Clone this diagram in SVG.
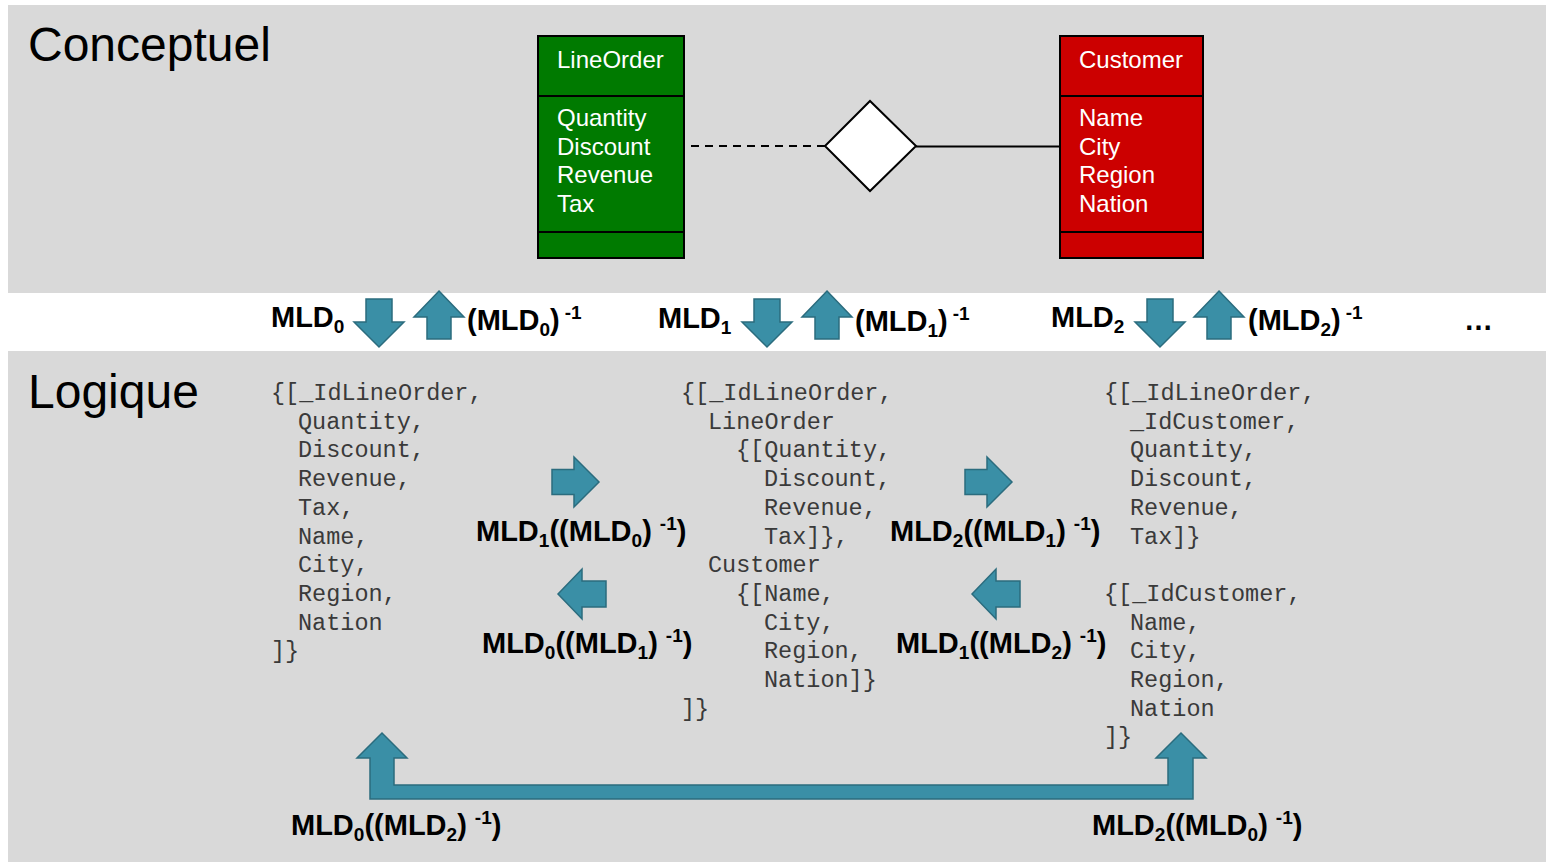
<svg xmlns="http://www.w3.org/2000/svg" xmlns:xlink="http://www.w3.org/1999/xlink" width="1546" height="862" viewBox="0 0 1546 862">
  <style>
    .panel { fill: #d9d9d9; }
    .ttl { font-family: "Liberation Sans", Arial, sans-serif; font-size: 48px; fill: #000; }
    .ent { font-family: "Liberation Sans", Arial, sans-serif; font-size: 24px; fill: #fff; }
    .box { stroke: #000; stroke-width: 2; }
    .div { stroke: #000; stroke-width: 2; }
    .lbl { font-family: "Liberation Sans", Arial, sans-serif; font-weight: bold; font-size: 29px; fill: #000; }
    .sm { font-size: 19px; }
    .code { font-family: "Liberation Mono", "Courier New", monospace; font-size: 23.5px; fill: #3a3a3a; }
    .arr { fill: #3a8fa6; stroke: #2b6c7e; stroke-width: 1.5; stroke-linejoin: miter; }
  </style>
  <defs>
    <!-- block arrows, origin at a fixed anchor point -->
    <path id="dn" d="M-13,0 H13 V23 H25 L0,48 L-25,23 H-13 Z"/>
    <path id="up" d="M0,0 L25,26 H12 V48 H-12 V26 H-25 Z"/>
    <path id="rt" d="M0,-12.5 H22 V-25 L47,0 L22,25 V12.5 H0 Z"/>
    <path id="lt" d="M0,0 L24,-25 V-13 H48 V13 H24 V25 Z"/>
  </defs>

  <!-- background bands -->
  <rect width="1546" height="862" fill="#ffffff"/>
  <rect class="panel" x="8" y="5" width="1538" height="288"/>
  <rect class="panel" x="8" y="351" width="1538" height="511"/>

  <text class="ttl" x="28" y="61">Conceptuel</text>
  <text class="ttl" x="28" y="408">Logique</text>

  <!-- relationship connectors -->
  <g id="connectors">
    <line x1="691" y1="146" x2="825" y2="146" stroke="#000" stroke-width="2" stroke-dasharray="8,6"/>
    <line x1="916" y1="146.5" x2="1059" y2="146.5" stroke="#000" stroke-width="2"/>
  </g>

  <g id="lineorder">
    <rect class="box" x="538" y="36" width="146" height="222" fill="#007a00"/>
    <line class="div" x1="538" y1="96" x2="684" y2="96"/>
    <line class="div" x1="538" y1="232" x2="684" y2="232"/>
    <text class="ent" x="557" y="68">LineOrder</text>
    <text class="ent" x="557" y="126">Quantity</text>
    <text class="ent" x="557" y="154.5">Discount</text>
    <text class="ent" x="557" y="183">Revenue</text>
    <text class="ent" x="557" y="211.5">Tax</text>
  </g>

  <g id="relationship">
    <path d="M825,146 L870,101 L916,146 L870,191 Z" fill="#fff" stroke="#000" stroke-width="2"/>
  </g>

  <g id="customer">
    <rect class="box" x="1060" y="36" width="143" height="222" fill="#cc0000"/>
    <line class="div" x1="1060" y1="96" x2="1203" y2="96"/>
    <line class="div" x1="1060" y1="232" x2="1203" y2="232"/>
    <text class="ent" x="1079" y="68">Customer</text>
    <text class="ent" x="1079" y="126">Name</text>
    <text class="ent" x="1079" y="154.5">City</text>
    <text class="ent" x="1079" y="183">Region</text>
    <text class="ent" x="1079" y="211.5">Nation</text>
  </g>

  <!-- mappings between the conceptual and logical levels -->
  <g id="mappings">
    <use xlink:href="#dn" class="arr" transform="translate(379,299)"/>
    <use xlink:href="#up" class="arr" transform="translate(439,291)"/>
    <use xlink:href="#dn" class="arr" transform="translate(767,299)"/>
    <use xlink:href="#up" class="arr" transform="translate(827,291)"/>
    <use xlink:href="#dn" class="arr" transform="translate(1160,299)"/>
    <use xlink:href="#up" class="arr" transform="translate(1219,291)"/>

    <text class="lbl" x="271" y="327">MLD<tspan class="sm" dy="6">0</tspan></text>
    <text class="lbl" x="467" y="330">(MLD<tspan class="sm" dy="6">0</tspan><tspan dy="-6">)</tspan><tspan class="sm" dx="5" dy="-11">-1</tspan></text>
    <text class="lbl" x="658" y="328">MLD<tspan class="sm" dy="6">1</tspan></text>
    <text class="lbl" x="855" y="331">(MLD<tspan class="sm" dy="6">1</tspan><tspan dy="-6">)</tspan><tspan class="sm" dx="5" dy="-11">-1</tspan></text>
    <text class="lbl" x="1051" y="327">MLD<tspan class="sm" dy="6">2</tspan></text>
    <text class="lbl" x="1248" y="330">(MLD<tspan class="sm" dy="6">2</tspan><tspan dy="-6">)</tspan><tspan class="sm" dx="5" dy="-11">-1</tspan></text>
    <text class="lbl" x="1464" y="330">…</text>
  </g>

  <!-- logical schema MLD0: single flat collection -->
  <g id="mld0">
    <text class="code" x="271" y="400">{[_IdLineOrder,</text>
    <text class="code" x="298" y="428.7">Quantity,</text>
    <text class="code" x="298" y="457.4">Discount,</text>
    <text class="code" x="298" y="486">Revenue,</text>
    <text class="code" x="298" y="514.8">Tax,</text>
    <text class="code" x="298" y="543.5">Name,</text>
    <text class="code" x="298" y="572.2">City,</text>
    <text class="code" x="298" y="600.9">Region,</text>
    <text class="code" x="298" y="629.6">Nation</text>
    <text class="code" x="271" y="658.3">]}</text>
  </g>

  <!-- logical schema MLD1: nested documents -->
  <g id="mld1">
    <text class="code" x="681" y="400">{[_IdLineOrder,</text>
    <text class="code" x="708" y="428.7">LineOrder</text>
    <text class="code" x="736" y="457.4">{[Quantity,</text>
    <text class="code" x="764" y="486">Discount,</text>
    <text class="code" x="764" y="514.8">Revenue,</text>
    <text class="code" x="764" y="543.5">Tax]},</text>
    <text class="code" x="708" y="572.2">Customer</text>
    <text class="code" x="736" y="600.9">{[Name,</text>
    <text class="code" x="764" y="629.6">City,</text>
    <text class="code" x="764" y="658.3">Region,</text>
    <text class="code" x="764" y="687">Nation]}</text>
    <text class="code" x="681" y="715.7">]}</text>
  </g>

  <!-- logical schema MLD2: two collections -->
  <g id="mld2">
    <text class="code" x="1104" y="400">{[_IdLineOrder,</text>
    <text class="code" x="1130" y="428.7">_IdCustomer,</text>
    <text class="code" x="1130" y="457.4">Quantity,</text>
    <text class="code" x="1130" y="486">Discount,</text>
    <text class="code" x="1130" y="514.8">Revenue,</text>
    <text class="code" x="1130" y="543.5">Tax]}</text>
    <text class="code" x="1104" y="600.9">{[_IdCustomer,</text>
    <text class="code" x="1130" y="629.6">Name,</text>
    <text class="code" x="1130" y="658.3">City,</text>
    <text class="code" x="1130" y="687">Region,</text>
    <text class="code" x="1130" y="715.7">Nation</text>
    <text class="code" x="1104" y="744.4">]}</text>
  </g>

  <!-- conversions between logical schemas -->
  <g id="conversions">
    <use xlink:href="#rt" class="arr" transform="translate(552,482)"/>
    <use xlink:href="#lt" class="arr" transform="translate(558,594)"/>
    <use xlink:href="#rt" class="arr" transform="translate(965,482)"/>
    <use xlink:href="#lt" class="arr" transform="translate(972,594)"/>
    <path class="arr" d="M370,799 V758 H357 L382,733 L407,758 H394 V785 H1168 V758 H1156 L1181,733 L1206,758 H1193 V799 Z"/>

    <text class="lbl" x="476" y="541">MLD<tspan class="sm" dy="6">1</tspan><tspan dy="-6">((MLD</tspan><tspan class="sm" dy="6">0</tspan><tspan dy="-6">) </tspan><tspan class="sm" dy="-11">-1</tspan><tspan dy="11">)</tspan></text>
    <text class="lbl" x="482" y="653">MLD<tspan class="sm" dy="6">0</tspan><tspan dy="-6">((MLD</tspan><tspan class="sm" dy="6">1</tspan><tspan dy="-6">) </tspan><tspan class="sm" dy="-11">-1</tspan><tspan dy="11">)</tspan></text>
    <text class="lbl" x="890" y="541">MLD<tspan class="sm" dy="6">2</tspan><tspan dy="-6">((MLD</tspan><tspan class="sm" dy="6">1</tspan><tspan dy="-6">) </tspan><tspan class="sm" dy="-11">-1</tspan><tspan dy="11">)</tspan></text>
    <text class="lbl" x="896" y="653">MLD<tspan class="sm" dy="6">1</tspan><tspan dy="-6">((MLD</tspan><tspan class="sm" dy="6">2</tspan><tspan dy="-6">) </tspan><tspan class="sm" dy="-11">-1</tspan><tspan dy="11">)</tspan></text>
    <text class="lbl" x="291" y="835">MLD<tspan class="sm" dy="6">0</tspan><tspan dy="-6">((MLD</tspan><tspan class="sm" dy="6">2</tspan><tspan dy="-6">) </tspan><tspan class="sm" dy="-11">-1</tspan><tspan dy="11">)</tspan></text>
    <text class="lbl" x="1092" y="835">MLD<tspan class="sm" dy="6">2</tspan><tspan dy="-6">((MLD</tspan><tspan class="sm" dy="6">0</tspan><tspan dy="-6">) </tspan><tspan class="sm" dy="-11">-1</tspan><tspan dy="11">)</tspan></text>
  </g>
</svg>
